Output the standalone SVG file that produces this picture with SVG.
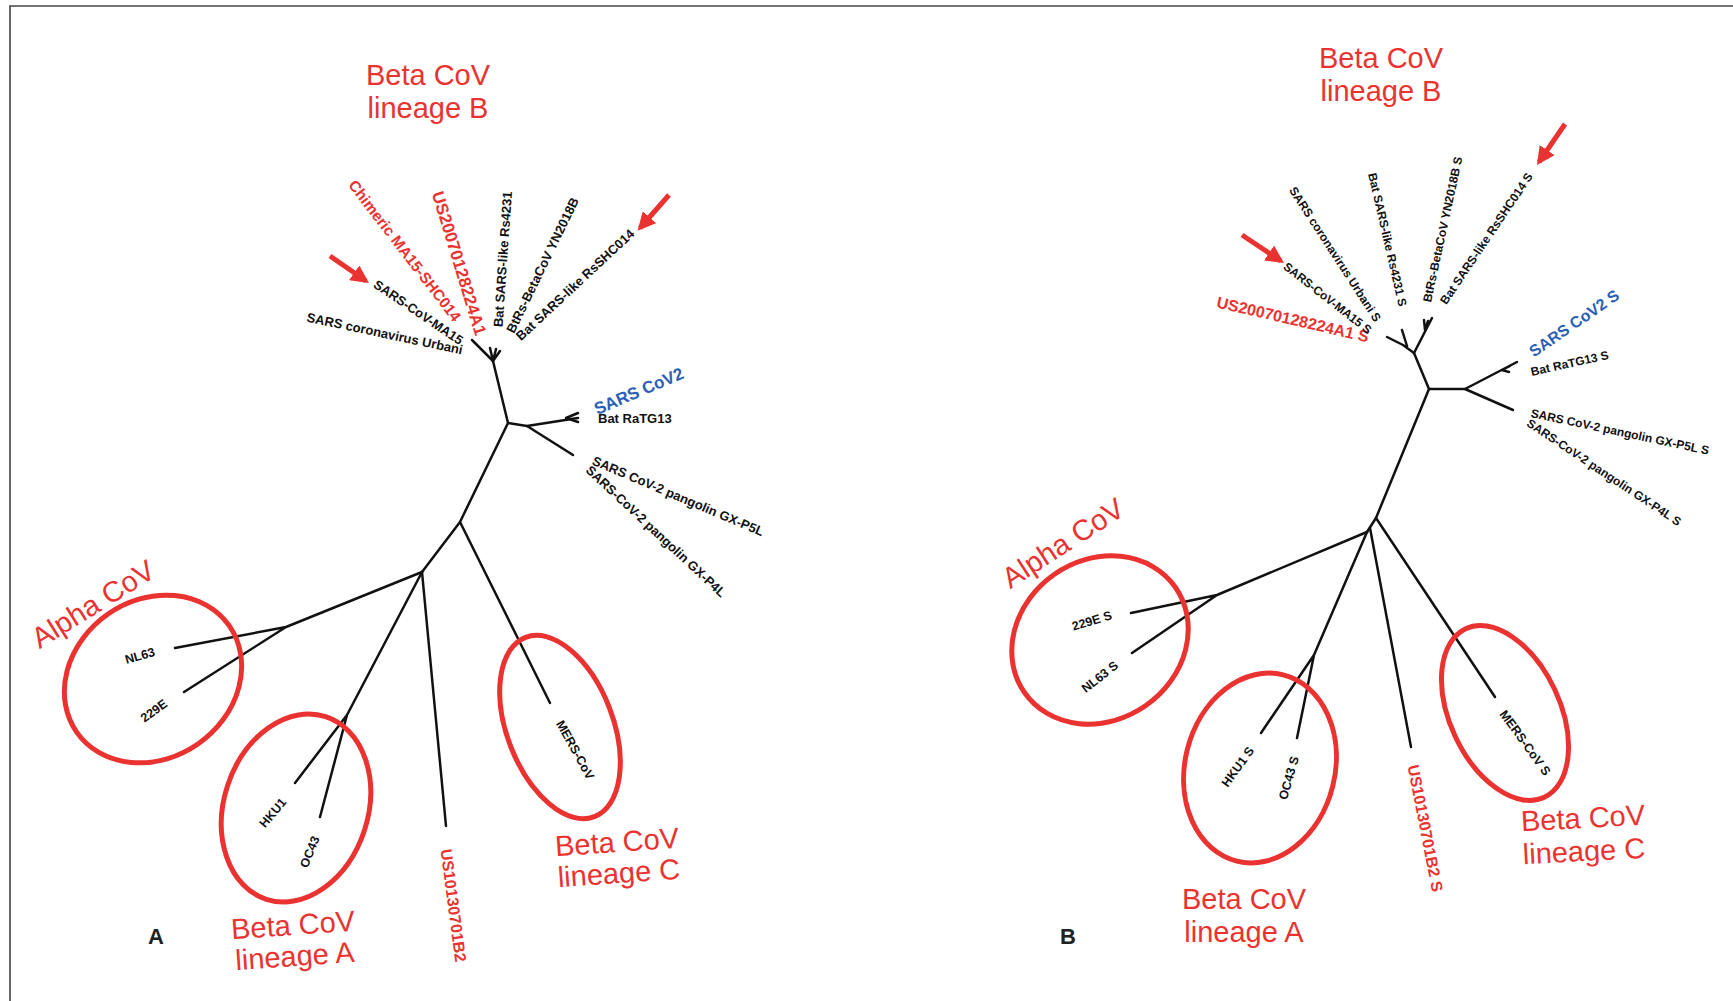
<svg xmlns="http://www.w3.org/2000/svg" width="1733" height="1001" viewBox="0 0 1733 1001">
<defs>
<style>
.br{stroke:#111;stroke-width:2.5;fill:none;stroke-linecap:round;stroke-linejoin:round}
.el{stroke:#ea3330;stroke-width:5;fill:none}
.ar{stroke:#ea3330;stroke-width:5;fill:none}
.lb{font-family:"Liberation Sans",Arial,sans-serif;font-weight:bold;font-size:13px;fill:#111;dominant-baseline:central}
.sm{font-size:12.5px}
.bs{font-size:12px}
.red{fill:#ea3330}
.blue{fill:#2b5fb5;font-size:17px}
.ttl{font-family:"Liberation Sans",Arial,sans-serif;font-size:29px;fill:#ea3330;text-anchor:middle}
.pn{font-family:"Liberation Sans",Arial,sans-serif;font-weight:bold;font-size:22px;fill:#222;text-anchor:middle}
.frame{stroke:#444;stroke-width:1.6;fill:none}
</style>
<marker id="ah" viewBox="0 0 10 10" refX="8" refY="5" markerWidth="3.6" markerHeight="3.6" orient="auto" markerUnits="strokeWidth">
<path d="M0,0 L10,5 L0,10 z" fill="#ea3330"/>
</marker>
</defs>
<rect width="1733" height="1001" fill="#fff"/>
<path class="frame" d="M10,1001 V6 H1733"/>

<g id="connectors">
<!-- Panel A tree -->
<path class="br" d="M493,361 L508,423 L460,522 L422,572"/>
<path class="br" d="M493,361 L472,340"/>
<path class="br" d="M493,361 L490,348 M493,361 L496,349 M493,361 L500,351"/>
<path class="br" d="M508,423 L527,426 L578,418 M566,418 L578,413 M566,418 L578,422"/>
<path class="br" d="M527,426 L573,455"/>
<path class="br" d="M460,522 L550,703"/>
<path class="br" d="M422,572 L286,627 L175,648 M286,627 L184,692"/>
<path class="br" d="M422,572 L347,715 L295,783 M347,715 L320,817"/>
<path class="br" d="M422,572 L446,826"/>
<!-- Panel B tree -->
<path class="br" d="M1414,353 L1429,389 L1376,518 L1367,532"/>
<path class="br" d="M1414,353 L1403,345 L1387,337 M1407,346 L1402,330"/>
<path class="br" d="M1414,353 L1432,318 M1425,330 L1424,320 M1425,330 L1428,321"/>
<path class="br" d="M1429,389 L1465,389 L1517,362 M1502,370 L1510,366 M1502,370 L1509,372"/>
<path class="br" d="M1465,389 L1513,410"/>
<path class="br" d="M1367,532 L1217,595 L1131,613 M1217,595 L1132,653"/>
<path class="br" d="M1367,532 L1314,655 L1261,733 M1314,655 L1297,738"/>
<path class="br" d="M1370,528 L1411,747"/>
<path class="br" d="M1376,518 L1495,697"/>
<!-- red arrows -->
<path class="ar" d="M330,256 L366,281" marker-end="url(#ah)"/>
<path class="ar" d="M669,195 L640,228" marker-end="url(#ah)"/>
<path class="ar" d="M1242,235 L1281,261" marker-end="url(#ah)"/>
<path class="ar" d="M1565,124 L1539,162" marker-end="url(#ah)"/>
</g>

<g id="groups">
<ellipse id="alphaA" class="el" cx="153" cy="679" rx="93" ry="79" transform="rotate(-35 153 679)"/>
<ellipse id="linAA" class="el" cx="296" cy="808" rx="72" ry="96" transform="rotate(18 296 808)"/>
<ellipse id="linCA" class="el" cx="560" cy="727" rx="53" ry="96" transform="rotate(-21 560 727)"/>
<ellipse id="alphaB" class="el" cx="1100" cy="640" rx="92" ry="80" transform="rotate(-35 1100 640)"/>
<ellipse id="linAB" class="el" cx="1260" cy="768" rx="75" ry="96" transform="rotate(14 1260 768)"/>
<ellipse id="linCB" class="el" cx="1505" cy="713" rx="55" ry="93" transform="rotate(-25 1505 713)"/>
</g>

<g id="panelA">
<g id="A-chimeric"><text class="lb red" style="font-size:15.3px" x="352" y="182" transform="rotate(52.4 352 182)">Chimeric MA15-SHC014</text></g>
<g id="A-us2007"><text class="lb red" style="font-size:17px" x="437" y="192" transform="rotate(73 437 192)">US20070128224A1</text></g>
<g id="A-ma15"><text class="lb" x="375" y="283" transform="rotate(34 375 283)">SARS-CoV-MA15</text></g>
<g id="A-urbani"><text class="lb" x="307" y="317" transform="rotate(12 307 317)">SARS coronavirus Urbani</text></g>
<g id="A-rs4231"><text class="lb" x="498" y="327" transform="rotate(-86 498 327)">Bat SARS-like Rs4231</text></g>
<g id="A-btrs"><text class="lb" x="510" y="332" transform="rotate(-64 510 332)">BtRs-BetaCoV YN2018B</text></g>
<g id="A-rsshc"><text class="lb" x="518" y="338" transform="rotate(-43 518 338)">Bat SARS-like RsSHC014</text></g>
<g id="A-sars2"><text class="lb blue" x="595" y="410" transform="rotate(-23 595 410)">SARS CoV2</text></g>
<g id="A-ratg13"><text class="lb" x="598" y="418">Bat RaTG13</text></g>
<g id="A-p5l"><text class="lb" x="593" y="460" transform="rotate(23 593 460)">SARS CoV-2 pangolin GX-P5L</text></g>
<g id="A-p4l"><text class="lb" x="588" y="468" transform="rotate(43 588 468)">SARS-CoV-2 pangolin GX-P4L</text></g>
<g id="A-nl63"><text class="lb sm" text-anchor="middle" x="140" y="656" transform="rotate(-16 140 656)">NL63</text></g>
<g id="A-229e"><text class="lb sm" text-anchor="middle" x="154" y="711" transform="rotate(-36 154 711)">229E</text></g>
<g id="A-hku1"><text class="lb sm" text-anchor="middle" x="273" y="813" transform="rotate(-50 273 813)">HKU1</text></g>
<g id="A-oc43"><text class="lb sm" text-anchor="middle" x="310" y="852" transform="rotate(-68 310 852)">OC43</text></g>
<g id="A-us1013"><text class="lb red" style="font-size:16px" x="446" y="849" transform="rotate(82.5 446 849)">US10130701B2</text></g>
<g id="A-mers"><text class="lb sm" text-anchor="middle" x="575" y="750" transform="rotate(61 575 750)">MERS-CoV</text></g>
<g id="A-titleB"><text class="ttl" x="428" y="85">Beta CoV</text><text class="ttl" x="428" y="118">lineage B</text></g>
<g id="A-titleAlpha"><text class="ttl" x="93" y="614" transform="rotate(-32 93 604)">Alpha CoV</text></g>
<g id="A-titleLA"><text class="ttl" x="293" y="935" transform="rotate(-4 293 925)">Beta CoV</text><text class="ttl" x="295" y="966" transform="rotate(-4 295 958)">lineage A</text></g>
<g id="A-titleLC"><text class="ttl" x="617" y="852" transform="rotate(-4 617 842)">Beta CoV</text><text class="ttl" x="619" y="883" transform="rotate(-4 619 875)">lineage C</text></g>
<g id="A-label"><text class="pn" x="156" y="944">A</text></g>
</g>

<g id="panelB">
<g id="B-us2007"><text class="lb red" style="font-size:16px" x="1217" y="302" transform="rotate(13 1217 302)">US20070128224A1 S</text></g>
<g id="B-ma15"><text class="lb bs" x="1285" y="265" transform="rotate(38 1285 265)">SARS-CoV-MA15 S</text></g>
<g id="B-urbani"><text class="lb bs" x="1292" y="188" transform="rotate(57 1292 188)">SARS coronavirus Urbani S</text></g>
<g id="B-rs4231"><text class="lb bs" x="1372" y="173" transform="rotate(77 1372 173)">Bat SARS-like Rs4231 S</text></g>
<g id="B-btrs"><text class="lb bs" x="1427" y="302" transform="rotate(-77.7 1427 302)">BtRs-BetaCoV YN2018B S</text></g>
<g id="B-rsshc"><text class="lb bs" x="1443" y="303" transform="rotate(-56 1443 303)">Bat SARS-like RsSHC014 S</text></g>
<g id="B-sars2"><text class="lb blue" style="font-size:16px" x="1531" y="353" transform="rotate(-34.6 1531 353)">SARS CoV2 S</text></g>
<g id="B-ratg13"><text class="lb bs" x="1531" y="372" transform="rotate(-12.5 1531 372)">Bat RaTG13 S</text></g>
<g id="B-p5l"><text class="lb bs" x="1531" y="413" transform="rotate(12 1531 413)">SARS CoV-2 pangolin GX-P5L S</text></g>
<g id="B-p4l"><text class="lb bs" x="1528" y="422" transform="rotate(33.6 1528 422)">SARS-CoV-2 pangolin GX-P4L S</text></g>
<g id="B-229e"><text class="lb sm" text-anchor="middle" x="1092" y="621" transform="rotate(-17 1092 621)">229E S</text></g>
<g id="B-nl63"><text class="lb sm" text-anchor="middle" x="1100" y="677" transform="rotate(-38 1100 677)">NL63 S</text></g>
<g id="B-hku1"><text class="lb sm" text-anchor="middle" x="1238" y="767" transform="rotate(-54 1238 767)">HKU1 S</text></g>
<g id="B-oc43"><text class="lb sm" text-anchor="middle" x="1289" y="778" transform="rotate(-74 1289 778)">OC43 S</text></g>
<g id="B-us1013"><text class="lb red" style="font-size:16px" x="1413" y="765" transform="rotate(79 1413 765)">US10130701B2 S</text></g>
<g id="B-mers"><text class="lb sm" text-anchor="middle" x="1525" y="743" transform="rotate(54 1525 743)">MERS-CoV S</text></g>
<g id="B-titleB"><text class="ttl" x="1381" y="68">Beta CoV</text><text class="ttl" x="1381" y="101">lineage B</text></g>
<g id="B-titleAlpha"><text class="ttl" x="1063" y="553" transform="rotate(-33 1063 543)">Alpha CoV</text></g>
<g id="B-titleLA"><text class="ttl" x="1244" y="909">Beta CoV</text><text class="ttl" x="1244" y="942">lineage A</text></g>
<g id="B-titleLC"><text class="ttl" x="1583" y="828" transform="rotate(-3 1583 818)">Beta CoV</text><text class="ttl" x="1584" y="861" transform="rotate(-3 1584 852)">lineage C</text></g>
<g id="B-label"><text class="pn" x="1068" y="944">B</text></g>
</g>
</svg>
